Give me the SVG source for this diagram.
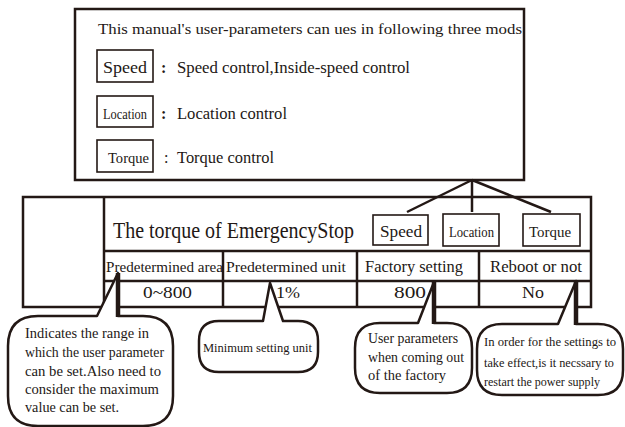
<svg xmlns="http://www.w3.org/2000/svg" width="625" height="427" viewBox="0 0 625 427">
<style>
text{fill:#231815}
.b{fill:none;stroke:#231815;stroke-width:2.5}
.s{fill:#fff;stroke:#231815;stroke-width:1.6}
.c{fill:none;stroke:#231815;stroke-width:2.5}
.bub{fill:#fff;stroke:#231815;stroke-width:2.5;stroke-linejoin:round}
.bar{stroke:#231815;stroke-width:4.5}
</style>
<rect width="625" height="427" fill="#fff"/>
<g id="modes-box" font-family="'Liberation Serif', serif">
<rect class="b" x="75" y="9" width="449" height="171"/>
<text font-family="'Liberation Serif', serif" x="98" y="34" font-size="15" textLength="424" lengthAdjust="spacingAndGlyphs">This manual&#39;s user-parameters can ues in following three mods</text>
<rect class="s" x="97" y="50" width="56" height="32"/>
<text font-family="'Liberation Serif', serif" x="103" y="73" font-size="17" textLength="44" lengthAdjust="spacingAndGlyphs">Speed</text>
<text font-family="'Liberation Serif', serif" x="161" y="73" font-size="16" font-weight="bold">:</text>
<text font-family="'Liberation Serif', serif" x="177" y="73" font-size="16" textLength="233" lengthAdjust="spacingAndGlyphs">Speed control,Inside-speed control</text>
<rect class="s" x="97" y="96" width="56" height="31"/>
<text font-family="'Liberation Serif', serif" x="103" y="119" font-size="14" textLength="44" lengthAdjust="spacingAndGlyphs">Location</text>
<text font-family="'Liberation Serif', serif" x="161" y="119" font-size="16" font-weight="bold">:</text>
<text font-family="'Liberation Serif', serif" x="177" y="119" font-size="16" textLength="110" lengthAdjust="spacingAndGlyphs">Location control</text>
<rect class="s" x="97" y="140" width="56" height="32"/>
<text font-family="'Liberation Serif', serif" x="108" y="163" font-size="14" textLength="41" lengthAdjust="spacingAndGlyphs">Torque</text>
<text font-family="'Liberation Serif', serif" x="164" y="163" font-size="16">:</text>
<text font-family="'Liberation Serif', serif" x="177" y="163" font-size="16" textLength="97" lengthAdjust="spacingAndGlyphs">Torque control</text>
</g>
<g id="table" font-family="'Liberation Serif', serif">
<rect class="b" x="23" y="197" width="568" height="110"/>
<line class="b" x1="104" y1="197" x2="104" y2="307"/>
<line class="b" x1="104" y1="251" x2="591" y2="251"/>
<line class="b" x1="104" y1="281" x2="591" y2="281"/>
<line class="b" x1="223" y1="251" x2="223" y2="307"/>
<line class="b" x1="357" y1="251" x2="357" y2="307"/>
<line class="b" x1="479" y1="251" x2="479" y2="307"/>
<text font-family="'Liberation Serif', serif" x="113" y="238" font-size="23" textLength="241" lengthAdjust="spacingAndGlyphs">The torque of EmergencyStop</text>
<text font-family="'Liberation Serif', serif" x="106" y="272" font-size="15" textLength="117" lengthAdjust="spacingAndGlyphs">Predetermined area</text>
<text font-family="'Liberation Serif', serif" x="226" y="272" font-size="15" textLength="120" lengthAdjust="spacingAndGlyphs">Predetermined unit</text>
<text font-family="'Liberation Serif', serif" x="365" y="272" font-size="16" textLength="98" lengthAdjust="spacingAndGlyphs">Factory setting</text>
<text font-family="'Liberation Serif', serif" x="490" y="272" font-size="16" textLength="92" lengthAdjust="spacingAndGlyphs">Reboot or not</text>
<text font-family="'Liberation Serif', serif" x="143" y="298" font-size="17" textLength="49" lengthAdjust="spacingAndGlyphs">0~800</text>
<text font-family="'Liberation Serif', serif" x="276" y="298" font-size="17" textLength="24" lengthAdjust="spacingAndGlyphs">1%</text>
<text font-family="'Liberation Serif', serif" x="394" y="298" font-size="17" textLength="32" lengthAdjust="spacingAndGlyphs">800</text>
<text font-family="'Liberation Serif', serif" x="522" y="298" font-size="17" textLength="22" lengthAdjust="spacingAndGlyphs">No</text>
</g>
<g id="mode-speed" font-family="'Liberation Serif', serif">
<rect class="s" x="373" y="215" width="55" height="30"/>
<text font-family="'Liberation Serif', serif" x="380" y="237" font-size="16" textLength="42" lengthAdjust="spacingAndGlyphs">Speed</text>
</g>
<g id="mode-location" font-family="'Liberation Serif', serif">
<rect class="s" x="443" y="214" width="56" height="32"/>
<text font-family="'Liberation Serif', serif" x="449" y="237" font-size="14" textLength="45" lengthAdjust="spacingAndGlyphs">Location</text>
</g>
<g id="mode-torque" font-family="'Liberation Serif', serif">
<rect class="s" x="523" y="214" width="57" height="32"/>
<text font-family="'Liberation Serif', serif" x="529" y="237" font-size="14" textLength="42" lengthAdjust="spacingAndGlyphs">Torque</text>
</g>
<g id="connectors">
<line class="c" x1="472" y1="180" x2="407" y2="212"/>
<line class="c" x1="472" y1="180" x2="472" y2="212"/>
<line class="c" x1="472" y1="180" x2="551" y2="212"/>
</g>
<g id="callout-range" font-family="'Liberation Serif', serif">
<path class="bub" d="M97 316 L118 273 L118 316 L143 316 Q173 316 173 346 L173 396 Q173 426 143 426 L38 426 Q8 426 8 396 L8 346 Q8 316 38 316 Z"/>
<line class="bar" x1="118" y1="273" x2="118" y2="317"/>
<text font-family="'Liberation Serif', serif" font-size="14" x="25" y="338" textLength="124" lengthAdjust="spacingAndGlyphs">Indicates the range in</text>
<text font-family="'Liberation Serif', serif" font-size="14" x="25" y="357" textLength="139" lengthAdjust="spacingAndGlyphs">which the user parameter</text>
<text font-family="'Liberation Serif', serif" font-size="14" x="25" y="376" textLength="136" lengthAdjust="spacingAndGlyphs">can be set.Also need to</text>
<text font-family="'Liberation Serif', serif" font-size="14" x="25" y="394" textLength="134" lengthAdjust="spacingAndGlyphs">consider the maximum</text>
<text font-family="'Liberation Serif', serif" font-size="14" x="25" y="412" textLength="94" lengthAdjust="spacingAndGlyphs">value can be set.</text>
</g>
<g id="callout-unit" font-family="'Liberation Serif', serif">
<path class="bub" d="M263 321 L270 283 L283 321 L298 321 Q318 321 318 341 L318 352 Q318 372 298 372 L219 372 Q199 372 199 352 L199 341 Q199 321 219 321 Z"/>
<text font-family="'Liberation Serif', serif" x="203" y="352" font-size="12.5" textLength="109" lengthAdjust="spacingAndGlyphs">Minimum setting unit</text>
</g>
<g id="callout-factory" font-family="'Liberation Serif', serif">
<path class="bub" d="M418 323 L434 282 L434 323 L447 323 Q472 323 472 348 L472 368 Q472 393 447 393 L380 393 Q355 393 355 368 L355 348 Q355 323 380 323 Z"/>
<line class="bar" x1="434" y1="282" x2="434" y2="324"/>
<text font-family="'Liberation Serif', serif" font-size="14" x="368" y="343" textLength="90" lengthAdjust="spacingAndGlyphs">User parameters</text>
<text font-family="'Liberation Serif', serif" font-size="14" x="368" y="362" textLength="96" lengthAdjust="spacingAndGlyphs">when coming out</text>
<text font-family="'Liberation Serif', serif" font-size="14" x="368" y="380" textLength="78" lengthAdjust="spacingAndGlyphs">of the factory</text>
</g>
<g id="callout-reboot" font-family="'Liberation Serif', serif">
<path class="bub" d="M558 324 L576 281 L576 324 L598 324 Q623 324 623 349 L623 370 Q623 395 598 395 L502 395 Q477 395 477 370 L477 349 Q477 324 502 324 Z"/>
<line class="bar" x1="576" y1="281" x2="576" y2="325"/>
<text font-family="'Liberation Serif', serif" font-size="13.5" x="484" y="346" textLength="132" lengthAdjust="spacingAndGlyphs">In order for the settings to</text>
<text font-family="'Liberation Serif', serif" font-size="13.5" x="484" y="367" textLength="130" lengthAdjust="spacingAndGlyphs">take effect,is it necssary to</text>
<text font-family="'Liberation Serif', serif" font-size="13.5" x="484" y="386" textLength="116" lengthAdjust="spacingAndGlyphs">restart the power supply</text>
</g>
</svg>
